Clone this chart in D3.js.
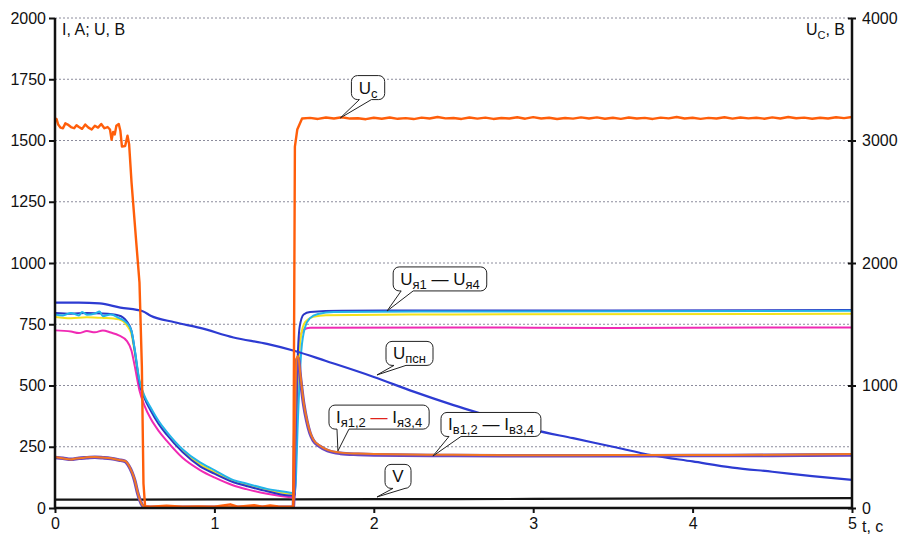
<!DOCTYPE html>
<meta charset="utf-8">
<script src="https://d3js.org/d3.v7.min.js"></script>
<style>
  body { margin: 0; background: #fff; }
  text { font-family: "Liberation Sans", Arial, sans-serif; fill: #111; }
</style>
<body>
<div id="vis"></div>
<script>
  // time axis (s) and the two value axes
  const tTicks = [0, 1, 2, 3, 4, 5]
  const leftTicks = [0, 250, 500, 750, 1000, 1250, 1500, 1750, 2000]
  const rightTicks = [0, 1000, 2000, 3000, 4000]

  // Uc, right axis (V)
  const uc = [[0,3180],[0.01,3175],[0.02,3130],[0.035,3105],[0.05,3100],[0.065,3140],[0.08,3130],[0.1,3110],
    [0.12,3100],[0.135,3125],[0.15,3110],[0.17,3095],[0.19,3130],[0.21,3105],[0.23,3090],[0.25,3120],[0.27,3105],
    [0.29,3135],[0.31,3100],[0.33,3110],[0.345,3090],[0.355,3005],[0.365,3070],[0.375,3050],[0.385,3120],[0.4,3135],
    [0.41,3080],[0.42,2950],[0.44,2955],[0.455,3040],[0.465,2970],[0.48,2660],[0.51,2165],[0.53,1840],[0.545,1150],
    [0.555,200],[0.565,15],[0.6,10],[0.7,18],[0.8,10],[0.9,12],[1.0,10],[1.1,30],[1.15,10],[1.25,22],[1.3,10],
    [1.35,20],[1.4,12],[1.495,10],[1.505,2950],[1.52,3090],[1.55,3180],[1.6,3185],[1.65,3176],[1.7,3188],[1.75,3180],
    [1.8,3190],[1.85,3179],[1.9,3182],[1.95,3174],[2.0,3186],[2.05,3178],[2.1,3188],[2.15,3177],[2.2,3183],[2.25,3175],
    [2.3,3187],[2.35,3180],[2.4,3192],[2.45,3181],[2.5,3184],[2.55,3176],[2.6,3188],[2.65,3179],[2.7,3187],[2.75,3176],
    [2.8,3184],[2.85,3180],[2.9,3190],[2.95,3178],[3.0,3191],[3.05,3180],[3.1,3186],[3.15,3176],[3.2,3184],[3.25,3179],
    [3.3,3189],[3.35,3180],[3.4,3189],[3.45,3178],[3.5,3186],[3.55,3177],[3.6,3188],[3.65,3180],[3.7,3185],[3.75,3176],
    [3.8,3187],[3.85,3181],[3.9,3192],[3.95,3180],[4.0,3186],[4.05,3177],[4.1,3185],[4.15,3180],[4.2,3190],[4.25,3179],
    [4.3,3188],[4.35,3181],[4.4,3186],[4.45,3178],[4.5,3189],[4.55,3180],[4.6,3192],[4.65,3182],[4.7,3187],[4.75,3178],
    [4.8,3186],[4.85,3180],[4.9,3190],[4.95,3183],[5.0,3192]]

  // armature voltages U я1..я4 (V)
  const uYa1 = [[0,796],[0.1,793],[0.2,796],[0.3,794],[0.4,786],[0.45,762],[0.48,722],[0.5,645],[0.53,510],[0.56,450],
    [0.6,398],[0.65,343],[0.7,300],[0.8,228],[0.91,170],[1.0,140],[1.12,105],[1.2,90],[1.33,68],[1.49,50],[1.505,55],
    [1.52,560],[1.535,740],[1.56,790],[1.6,800],[1.8,805],[2.5,806],[3.5,806],[5,808]]
  const uYa2 = [[0,790],[0.05,786],[0.1,796],[0.15,786],[0.17,800],[0.2,789],[0.25,794],[0.28,802],[0.3,783],[0.35,790],
    [0.4,776],[0.45,756],[0.48,722],[0.5,648],[0.53,520],[0.56,460],[0.6,410],[0.65,355],[0.7,312],[0.8,240],[0.91,186],
    [1.0,155],[1.12,114],[1.2,100],[1.33,78],[1.4,70],[1.49,61],[1.505,60],[1.525,380],[1.545,640],[1.57,740],
    [1.6,775],[1.65,792],[1.75,800],[2.5,802],[5,805]]
  const uYa3 = [[0,780],[0.1,775],[0.2,779],[0.3,776],[0.4,770],[0.45,746],[0.48,708],[0.5,635],[0.53,515],[0.56,455],
    [0.6,403],[0.65,348],[0.7,305],[0.8,234],[0.91,178],[1.0,147],[1.12,110],[1.2,95],[1.33,73],[1.49,56],[1.505,55],
    [1.52,450],[1.54,690],[1.57,760],[1.62,780],[1.7,787],[2.5,790],[5,793]]
  const uYa4 = [[0,725],[0.1,720],[0.15,714],[0.2,722],[0.25,717],[0.3,725],[0.35,716],[0.4,705],[0.45,682],[0.48,642],
    [0.5,580],[0.53,480],[0.56,420],[0.6,365],[0.65,315],[0.7,275],[0.8,205],[0.91,155],[1.0,125],[1.12,92],[1.2,77],
    [1.33,58],[1.49,43],[1.505,42],[1.52,480],[1.54,700],[1.56,728],[1.6,736],[2.5,737],[3.5,735],[5,737]]

  // U псн (V)
  const uPsn = [[0,838],[0.15,838],[0.28,835],[0.41,818],[0.55,803],[0.6,785],[0.75,758],[0.91,735],[1.12,696],
    [1.33,670],[1.5,642],[1.7,600],[2.0,535],[2.25,475],[2.5,420],[2.75,370],[3.0,320],[3.25,285],[3.5,250],
    [3.75,215],[4.0,190],[4.25,165],[4.5,148],[4.75,130],[5.0,115]]

  // currents: armature I я and field I в (A)
  const iYa = [[0,208],[0.03,205],[0.06,201],[0.1,198],[0.13,202],[0.17,204],[0.2,207],[0.25,208],[0.3,206],[0.35,203],
    [0.38,199],[0.41,195],[0.44,192],[0.455,182],[0.47,165],[0.5,115],[0.52,60],[0.545,15],[0.56,4],[0.8,4],[1.2,4],
    [1.495,4],[1.505,350],[1.515,610],[1.525,620],[1.54,540],[1.56,430],[1.58,360],[1.6,310],[1.62,280],[1.66,255],
    [1.71,237],[1.79,226],[1.9,222],[2.0,220],[2.5,217],[3.0,215],[3.5,216],[4.0,216],[4.5,217],[5.0,220]]
  const iV = [[0,206],[0.05,203],[0.1,199],[0.15,203],[0.2,205],[0.25,207],[0.3,205],[0.35,202],[0.4,196],[0.44,190],
    [0.46,175],[0.5,112],[0.52,58],[0.545,14],[0.56,3],[1.495,3],[1.505,330],[1.515,600],[1.525,612],[1.54,530],
    [1.56,425],[1.58,355],[1.6,305],[1.62,276],[1.66,252],[1.71,234],[1.79,223],[1.9,219],[2.0,217],[2.5,214],
    [3.0,213],[3.5,213],[4.0,214],[4.5,215],[5.0,217]]

  // speed V
  const speed = [[0,34],[1,35],[2,36],[3,37],[4,39],[5,40]]

  const width = 899, height = 536
  const margin = {left: 55, right: 47, top: 18, bottom: 28}

  let svg = d3.select('#vis').append('svg')
    .attr('width', width)
    .attr('height', height)

  let x = d3.scaleLinear().domain([0, 5]).range([margin.left, width - margin.right])
  let yL = d3.scaleLinear().domain([0, 2000]).range([height - margin.bottom, margin.top])
  let yR = d3.scaleLinear().domain([0, 4000]).range([height - margin.bottom, margin.top])

  // dotted grid
  svg.append('g')
    .selectAll('line')
    .data(leftTicks.slice(1))
    .enter()
    .append('line')
      .attr('x1', x(0)).attr('x2', x(5))
      .attr('y1', d => yL(d)).attr('y2', d => yL(d))
      .attr('stroke', '#8c8c9c')
      .attr('stroke-width', 1)
      .attr('stroke-dasharray', '2,2')

  let lineL = d3.line().x(d => x(d[0])).y(d => yL(d[1])).curve(d3.curveMonotoneX)
  let lineR = d3.line().x(d => x(d[0])).y(d => yR(d[1]))

  function draw(data, line, color, w) {
    svg.append('path')
      .datum(data)
      .attr('d', line)
      .attr('fill', 'none')
      .attr('stroke', color)
      .attr('stroke-width', w)
      .attr('stroke-linejoin', 'round')
  }

  draw(speed, lineL, '#151515', 2.2)
  draw(uYa4, lineL, '#f02ab4', 2)
  draw(uYa3, lineL, '#f2e21c', 2)
  draw(uYa1, lineL, '#2a36c4', 2)
  draw(uYa2, lineL, '#22b4ea', 2)
  draw(uPsn, lineL, '#2d3bd2', 2.2)
  draw(iV, lineL, '#6a48c0', 3.6)
  draw(iYa, lineL, '#f27624', 2)
  draw(uc, lineR, '#ff5e0a', 2.4)

  // axes
  let fmt = d3.format('d')
  let axisB = svg.append('g')
    .attr('transform', 'translate(0,' + yL(0) + ')')
    .call(d3.axisBottom(x).tickValues(tTicks).tickSize(5).tickPadding(5).tickFormat(fmt))
  let axisLft = svg.append('g')
    .attr('transform', 'translate(' + x(0) + ',0)')
    .call(d3.axisLeft(yL).tickValues(leftTicks).tickSize(6).tickPadding(3).tickFormat(fmt))
  let axisRgt = svg.append('g')
    .attr('transform', 'translate(' + x(5) + ',0)')
    .call(d3.axisRight(yR).tickValues(rightTicks).tickSize(4).tickPadding(6).tickFormat(fmt))

  ;[axisB, axisLft, axisRgt].forEach(function (g) {
    g.select('.domain').remove()
    g.selectAll('line').attr('stroke', '#111').attr('stroke-width', 2)
    g.selectAll('text').style('font-size', '16px').attr('fill', '#111')
  })
  // right ticks cross the axis
  axisRgt.selectAll('.tick line').attr('x1', -4)

  svg.append('path')
    .attr('d', 'M' + x(0) + ',' + yL(2000) + 'V' + yL(0) + 'H' + x(5) + 'V' + yL(2000))
    .attr('fill', 'none')
    .attr('stroke', '#111')
    .attr('stroke-width', 2.5)

  // axis titles
  svg.append('text')
    .attr('x', x(0) + 7).attr('y', 35)
    .style('font-size', '16px')
    .text('I, A; U, B')

  let rt = svg.append('text')
    .attr('x', x(5) - 7).attr('y', 35)
    .attr('text-anchor', 'end')
    .style('font-size', '16px')
  rt.append('tspan').text('U')
  rt.append('tspan').attr('dy', 4).style('font-size', '11px').text('C')
  rt.append('tspan').attr('dy', -4).text(', B')

  svg.append('text')
    .attr('x', x(5) + 10).attr('y', yL(0) + 24)
    .style('font-size', '16px')
    .text('t, c')

  // callouts: box centre and pointer tip in data units
  const callouts = [
    {parts: [['U'], ['c', 1]], cx: 1.964, cy: 1716, px: 1.79, py: 1592},
    {parts: [['U'], ['я1', 1], [' — '], ['U'], ['я4', 1]], cx: 2.415, cy: 935, px: 2.083, py: 804},
    {parts: [['U'], ['псн', 1]], cx: 2.224, cy: 631, px: 2.02, py: 543},
    {parts: [['I'], ['я1,2', 1], [' — ', 0, '#e0231c'], ['I'], ['я3,4', 1]], cx: 2.033, cy: 371, px: 1.775, py: 233},
    {parts: [['I'], ['в1,2', 1], [' — '], ['I'], ['в3,4', 1]], cx: 2.735, cy: 341, px: 2.371, py: 212},
    {parts: [['V']], cx: 2.152, cy: 129, px: 2.02, py: 45}
  ]

  callouts.forEach(function (c) {
    let g = svg.append('g')
    let path = g.append('path')
    let txt = g.append('text')
      .attr('x', x(c.cx)).attr('y', yL(c.cy) + 6)
      .attr('text-anchor', 'middle')
      .style('font-size', '17px')
    let sub = false
    c.parts.forEach(function (p) {
      let s = txt.append('tspan').text(p[0])
      if (p[1] && !sub) { s.attr('dy', 4); sub = true }
      else if (!p[1] && sub) { s.attr('dy', -4); sub = false }
      if (p[1]) s.style('font-size', '13px')
      if (p[2]) s.attr('fill', p[2])
    })
    let bb = txt.node().getBBox()
    let w = bb.width + 14, h = 24, r = 6
    let bx = x(c.cx) - w / 2, by = yL(c.cy) - h / 2
    let t1 = bx + 8, t2 = bx + 20
    let tipX = x(c.px), tipY = yL(c.py)
    path.attr('d', 'M' + (bx + r) + ',' + by + 'H' + (bx + w - r) +
        'A' + r + ',' + r + ' 0 0 1 ' + (bx + w) + ',' + (by + r) + 'V' + (by + h - r) +
        'A' + r + ',' + r + ' 0 0 1 ' + (bx + w - r) + ',' + (by + h) + 'H' + t2 +
        'L' + tipX + ',' + tipY + 'L' + t1 + ',' + (by + h) + 'H' + (bx + r) +
        'A' + r + ',' + r + ' 0 0 1 ' + bx + ',' + (by + h - r) + 'V' + (by + r) +
        'A' + r + ',' + r + ' 0 0 1 ' + (bx + r) + ',' + by + 'Z')
      .attr('fill', '#fff')
      .attr('stroke', '#222')
      .attr('stroke-width', 1)
  })
</script>
</body>
